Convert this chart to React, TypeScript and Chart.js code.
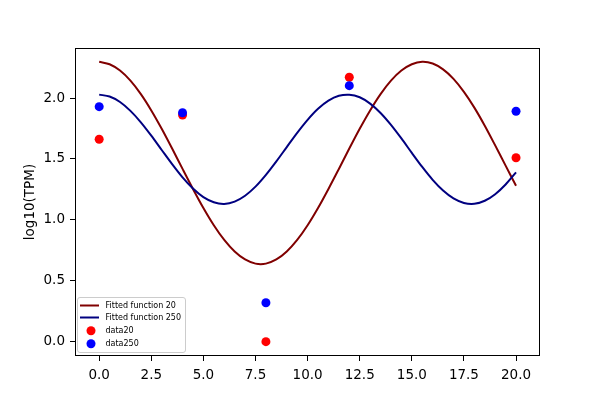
import { useEffect, useRef } from "react";
import { Chart, registerables } from "chart.js";

Chart.register(...registerables);

const fitX = [
  0, 0.5, 1, 1.5, 2, 2.5, 3, 3.5, 4, 4.5, 5, 5.5, 6, 6.5, 7, 7.5,
  8, 8.5, 9, 9.5, 10, 10.5, 11, 11.5, 12, 12.5, 13, 13.5, 14, 14.5, 15, 15.5,
  16, 16.5, 17, 17.5, 18, 18.5, 19, 19.5, 20,
];
const fit20 = [
  2.3, 2.28, 2.228, 2.145, 2.034, 1.9, 1.749, 1.586, 1.418, 1.253, 1.096, 0.954, 0.833, 0.738, 0.672, 0.638,
  0.638, 0.672, 0.738, 0.833, 0.954, 1.096, 1.253, 1.418, 1.586, 1.749, 1.9, 2.034, 2.145, 2.228, 2.28, 2.3,
  2.286, 2.238, 2.16, 2.053, 1.923, 1.774, 1.612, 1.445, 1.279,
];
const fit250 = [
  2.03, 2.014, 1.969, 1.896, 1.802, 1.692, 1.574, 1.457, 1.348, 1.256, 1.185, 1.143, 1.13, 1.149, 1.197, 1.272,
  1.369, 1.48, 1.598, 1.715, 1.822, 1.913, 1.98, 2.02, 2.029, 2.008, 1.956, 1.879, 1.781, 1.669, 1.55, 1.434,
  1.328, 1.24, 1.175, 1.138, 1.131, 1.156, 1.21, 1.29, 1.39,
];
const dataX = [0, 4, 8, 12, 20];
const data20 = [1.662, 1.862, -0.005, 2.173, 1.51];
const data250 = [1.931, 1.881, 0.316, 2.104, 1.893];

const xTicks = [0, 2.5, 5, 7.5, 10, 12.5, 15, 17.5, 20];
const yTicks = [0, 0.5, 1, 1.5, 2];
const seriesLabels = ["Fitted function 20", "Fitted function 250", "data20", "data250"];
const yTitle = "log10(TPM)";

const pts = (xs: number[], ys: number[]) => xs.map((x, i) => ({ x, y: ys[i] }));

export default function App() {
  const ref = useRef<HTMLCanvasElement>(null);

  useEffect(() => {
    document.body.style.margin = "0";
    Chart.defaults.font.family = "'DejaVu Sans', sans-serif";

    const framePlugin = {
      id: "frame",
      afterDatasetsDraw(chart: any) {
        const { ctx, chartArea: a } = chart;
        ctx.save();
        ctx.strokeStyle = "#000";
        ctx.lineWidth = 1;
        ctx.strokeRect(Math.round(a.left) + 0.5, Math.round(a.top) + 0.5, Math.round(a.right - a.left) - 1, Math.round(a.bottom - a.top) - 1);
        ctx.restore();
      },
    };

    const legendPlugin = {
      id: "mplLegend",
      afterDraw(chart: any) {
        const { ctx, chartArea: a } = chart;
        const x0 = a.left + 2;
        const w = 108;
        const y1 = a.bottom - 4;
        const h = 55;
        const y0 = y1 - h;
        ctx.save();
        ctx.beginPath();
        if ((ctx as any).roundRect) (ctx as any).roundRect(x0 + 0.5, y0 + 0.5, w, h, 2.5);
        else ctx.rect(x0 + 0.5, y0 + 0.5, w, h);
        ctx.fillStyle = "rgba(255,255,255,0.8)";
        ctx.fill();
        ctx.strokeStyle = "#cccccc";
        ctx.lineWidth = 1;
        ctx.stroke();
        const rows = [50.5, 38.5, 25.2, 12.2];
        chart.data.datasets.forEach((ds: any, i: number) => {
          const cy = a.bottom - rows[i];
          if (ds.showLine) {
            ctx.beginPath();
            ctx.moveTo(a.left + 5, cy);
            ctx.lineTo(a.left + 24, cy);
            ctx.strokeStyle = ds.borderColor;
            ctx.lineWidth = 2;
            ctx.stroke();
          } else {
            ctx.beginPath();
            ctx.arc(a.left + 16, cy, 4.5, 0, Math.PI * 2);
            ctx.fillStyle = ds.backgroundColor;
            ctx.fill();
          }
          ctx.fillStyle = "#000";
          ctx.font = "8px 'DejaVu Sans'";
          ctx.textAlign = "left";
          ctx.textBaseline = "middle";
          ctx.fillText(ds.label, a.left + 30.5, cy);
        });
        ctx.restore();
      },
    };

    const chart = new Chart(ref.current!, {
      type: "scatter",
      data: {
        datasets: [
          {
            label: seriesLabels[0],
            data: pts(fitX, fit20),
            showLine: true,
            borderColor: "#800000",
            backgroundColor: "#800000",
            borderWidth: 2,
            pointRadius: 0,
            pointHoverRadius: 0,
            tension: 0.3,
            order: 4,
          },
          {
            label: seriesLabels[1],
            data: pts(fitX, fit250),
            showLine: true,
            borderColor: "#000080",
            backgroundColor: "#000080",
            borderWidth: 2,
            pointRadius: 0,
            pointHoverRadius: 0,
            tension: 0.3,
            order: 3,
          },
          {
            label: seriesLabels[2],
            data: pts(dataX, data20),
            backgroundColor: "#ff0000",
            borderWidth: 0,
            pointRadius: 4.5,
            pointHoverRadius: 4.5,
            order: 2,
          },
          {
            label: seriesLabels[3],
            data: pts(dataX, data250),
            backgroundColor: "#0000ff",
            borderWidth: 0,
            pointRadius: 4.5,
            pointHoverRadius: 4.5,
            order: 1,
          },
        ],
      },
      options: {
        responsive: false,
        animation: false,
        layout: { padding: { top: 48, right: 60, left: 0, bottom: 0 } },
        plugins: { legend: { display: false }, tooltip: { enabled: false } },
        scales: {
          x: {
            type: "linear",
            min: -1.16,
            max: 21.15,
            afterBuildTicks: (s: any) => {
              s.ticks = xTicks.map((v) => ({ value: v }));
            },
            afterFit: (s: any) => {
              s.height = 44;
            },
            ticks: {
              callback: (v: any) => Number(v).toFixed(1),
              color: "#000",
              font: { size: 13.5 },
              padding: 6,
              maxRotation: 0,
              autoSkip: false,
            },
            grid: { drawOnChartArea: false, drawTicks: true, tickLength: 5, color: "#000", lineWidth: 1 },
            border: { display: false },
          },
          y: {
            type: "linear",
            min: -0.123,
            max: 2.414,
            afterBuildTicks: (s: any) => {
              s.ticks = yTicks.map((v) => ({ value: v }));
            },
            afterFit: (s: any) => {
              s.width = 75;
            },
            ticks: {
              callback: (v: any) => Number(v).toFixed(1),
              color: "#000",
              font: { size: 13.5 },
              padding: 5,
              autoSkip: false,
            },
            grid: { drawOnChartArea: false, drawTicks: true, tickLength: 5, color: "#000", lineWidth: 1 },
            border: { display: false },
            title: {
              display: true,
              text: yTitle,
              color: "#000",
              font: { size: 13.5 },
              padding: { top: 21.9, bottom: 0 },
            },
          },
        },
      },
      plugins: [framePlugin, legendPlugin],
    });
    return () => chart.destroy();
  }, []);

  return (
    <div style={{ width: 600, height: 400 }}>
      <canvas ref={ref} width={600} height={400} style={{ display: "block" }} />
    </div>
  );
}
